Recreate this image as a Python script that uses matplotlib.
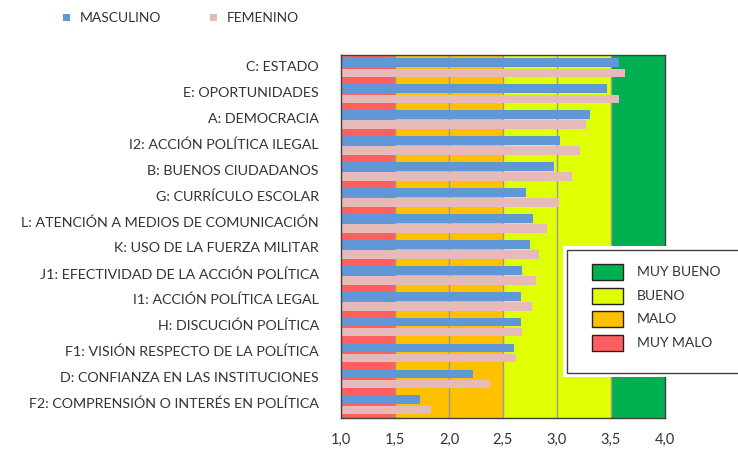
import numpy as np
import matplotlib
matplotlib.use('Agg')
import matplotlib.pyplot as plt
from matplotlib.patches import Rectangle

plt.rcParams['font.family'] = ['Lato', 'DejaVu Sans']

# data, top to bottom
categorias = ['C: ESTADO', 'E: OPORTUNIDADES', 'A: DEMOCRACIA',
              'I2: ACCIÓN POLÍTICA ILEGAL', 'B: BUENOS CIUDADANOS',
              'G: CURRÍCULO ESCOLAR',
              'L: ATENCIÓN A MEDIOS DE COMUNICACIÓN',
              'K: USO DE LA FUERZA MILITAR',
              'J1: EFECTIVIDAD DE LA ACCIÓN POLÍTICA',
              'I1: ACCIÓN POLÍTICA LEGAL', 'H: DISCUCIÓN POLÍTICA',
              'F1: VISIÓN RESPECTO DE LA POLÍTICA',
              'D: CONFIANZA EN LAS INSTITUCIONES',
              'F2: COMPRENSIÓN O INTERÉS EN POLÍTICA']
masculino = [3.57, 3.46, 3.31, 3.03, 2.97, 2.71, 2.78, 2.75, 2.68, 2.67,
             2.67, 2.60, 2.22, 1.73]
femenino = [3.63, 3.57, 3.27, 3.21, 3.14, 3.02, 2.91, 2.83, 2.81, 2.77,
            2.68, 2.62, 2.38, 1.83]

# rating zones
zonas = ['MUY MALO', 'MALO', 'BUENO', 'MUY BUENO']
limites = [1.0, 1.5, 2.5, 3.5, 4.0]
zona_col = ['#FF5F5F', '#FFC000', '#E0FF00', '#00B050']

c_masc = '#6097D6'
c_fem = '#E6BAB9'
c_txt = '#333333'

W, H = 738, 449
fig = plt.figure(figsize=(W / 100, H / 100), dpi=100)
ax = fig.add_axes([341 / W, 1 - 418 / H, 324 / W, 363 / H])

for lo, hi, col in zip(limites[:-1], limites[1:], zona_col):
    ax.axvspan(lo, hi, color=col, lw=0, zorder=0)
for v in np.arange(1.5, 3.51, 0.5):
    ax.axvline(v, color='#999999', lw=1, zorder=1)

n = len(categorias)
y = np.arange(n)[::-1]
ax.barh(y + 0.2, np.array(masculino) - 1, left=1, height=0.34,
        color=c_masc, zorder=2)
ax.barh(y - 0.19, np.array(femenino) - 1, left=1, height=0.33,
        color=c_fem, zorder=2)

ax.set_xlim(1, 4)
ax.set_ylim(-0.5, n - 0.5)
ticks = np.arange(1, 4.01, 0.5)
ax.set_xticks(ticks)
ax.set_xticklabels([f'{t:.1f}'.replace('.', ',') for t in ticks],
                   fontsize=10.5, color=c_txt)
ax.set_yticks(y + 0.08)
ax.set_yticklabels(categorias, fontsize=10.3, color=c_txt)
ax.tick_params(axis='x', length=0, pad=11)
ax.tick_params(axis='y', length=0, pad=16)
for s in ax.spines.values():
    s.set_color('#404040')
    s.set_linewidth(1)
    s.set_zorder(3)


def px_rect(x0, y0, w, h, **kw):
    # rectangle given in image pixels, origin top-left
    return Rectangle((x0 / W, 1 - (y0 + h) / H), w / W, h / H,
                     transform=fig.transFigure, **kw)


def px_text(x, yy, s, **kw):
    fig.text(x / W, 1 - yy / H, s, va='center', ha='left',
             color=c_txt, **kw)


# series legend at top
for x0, col, lab in [(63, c_masc, 'MASCULINO'), (210, c_fem, 'FEMENINO')]:
    fig.add_artist(px_rect(x0, 14, 7, 7, facecolor=col, lw=0))
    px_text(x0 + 17, 18, lab, fontsize=10)

# zone legend box
fig.add_artist(px_rect(563, 246, 190, 131, facecolor='white', lw=0,
                       zorder=5))
fig.add_artist(px_rect(567, 250, 190, 123, facecolor='white',
                       edgecolor='#404040', lw=1, zorder=6))
for k, (lab, col) in enumerate(zip(zonas[::-1], zona_col[::-1])):
    yc = 272 + 23.7 * k
    fig.add_artist(px_rect(592, yc - 8, 31, 16, facecolor=col,
                           edgecolor='#222222', lw=1, zorder=7))
    px_text(637, yc, lab, fontsize=10, zorder=7)

fig.savefig('out.png', dpi=100)
